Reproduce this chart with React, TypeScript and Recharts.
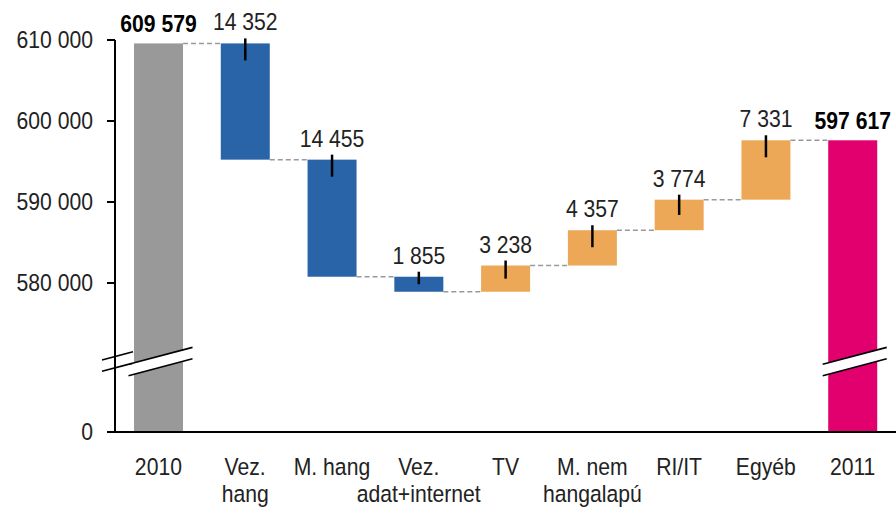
import { BarChart, Bar, XAxis, YAxis } from "recharts";

const categories = ["2010", "Vez.\nhang", "M. hang", "Vez.\nadat+internet", "TV", "M. nem\nhangalapú", "RI/IT", "Egyéb", "2011"];
const startTotal = 609579;
const endTotal = 597617;
const changes = [-14352, -14455, -1855, 3238, 4357, 3774, 7331];
const yTicks = [0, 580000, 590000, 600000, 610000];

// broken axis: everything below BREAK_VALUE is squeezed into the bottom strip
const OFFSET = 561600;
const BREAK_VALUE = 570300;
const tv = (v: number) => (v >= BREAK_VALUE ? v - OFFSET : (v * (BREAK_VALUE - OFFSET)) / BREAK_VALUE);

const fmt = (n: number) => String(Math.abs(n)).replace(/\B(?=(\d{3})+(?!\d))/g, " ");

const W = 896;
const H = 507;
const Y_W = 115;
const BAND = (W - Y_W) / categories.length;
const FONT = '"Liberation Sans", Arial, sans-serif';
const FS = 23.5;
const SQUEEZE = 0.9;

type Row = { name: string; base: number; size: number; kind: string; label: string };

const rows: Row[] = [];
rows.push({ name: categories[0], base: 0, size: tv(startTotal), kind: "start", label: fmt(startTotal) });
let level = startTotal;
changes.forEach((d, i) => {
  const next = level + d;
  rows.push({ name: categories[i + 1], base: tv(Math.min(level, next)), size: Math.abs(d), kind: d < 0 ? "down" : "up", label: fmt(d) });
  level = next;
});
rows.push({ name: categories[categories.length - 1], base: 0, size: tv(endTotal), kind: "end", label: fmt(endTotal) });

const tickLabels = new Map(yTicks.map((v) => [tv(v), fmt(v)]));

const COLORS: Record<string, string> = { start: "#999999", end: "#E2006F", down: "#2964A8", up: "#EDA857" };

// condensed-looking text: regular font squeezed horizontally
function NarrowText({ x, y, anchor = "middle", bold = false, fill = "#222", lines }: { x: number; y: number; anchor?: string; bold?: boolean; fill?: string; lines: string[] }) {
  return (
    <text
      transform={`translate(${x},${y}) scale(${SQUEEZE},1)`}
      textAnchor={anchor}
      fontSize={FS}
      fontWeight={bold ? 700 : 400}
      fill={fill}
      fontFamily={FONT}
    >
      {lines.map((l, i) => (
        <tspan key={i} x={0} dy={i === 0 ? 0 : 27}>
          {l}
        </tspan>
      ))}
    </text>
  );
}

function BreakMark({ cx, cy, half }: { cx: number; cy: number; half: number }) {
  const s = 0.264;
  const g = 5.7;
  const x1 = cx - half;
  const x2 = cx + half;
  const up1 = cy - g + s * half;
  const up2 = cy - g - s * half;
  const lo1 = cy + g + s * half;
  const lo2 = cy + g - s * half;
  return (
    <g>
      <polygon points={`${x1},${up1} ${x2},${up2} ${x2},${lo2} ${x1},${lo1}`} fill="#fff" />
      <line x1={x1} y1={up1} x2={x2} y2={up2} stroke="#000" strokeWidth={1.6} />
      <line x1={x1} y1={lo1} x2={x2} y2={lo2} stroke="#000" strokeWidth={1.6} />
    </g>
  );
}

function StepShape(props: any) {
  const { x, y, width, height, payload } = props;
  const row = payload as Row;
  const cx = x + width / 2;
  const bottom = y + height;
  const total = row.kind === "start" || row.kind === "end";
  const linkY = row.kind === "down" ? bottom : y;
  const breakY = bottom - (height * tv(BREAK_VALUE)) / row.size;
  return (
    <g>
      <rect x={x} y={y} width={width} height={height} fill={COLORS[row.kind]} />
      {row.kind !== "end" && (
        <line x1={x + width} y1={linkY} x2={x + BAND} y2={linkY} stroke="#9a9a9a" strokeWidth={1.5} strokeDasharray="5 3" />
      )}
      {!total && (
        <line x1={cx} y1={y - 5} x2={cx} y2={y + Math.min(17, height / 2)} stroke="#000" strokeWidth={2.5} />
      )}
      {total && <BreakMark cx={cx + 2} cy={breakY} half={32} />}
      {row.kind === "start" && <BreakMark cx={Y_W + 2.5} cy={breakY} half={15.5} />}
      <NarrowText x={cx} y={y - (total ? 11 : 13)} bold={total} fill={total ? "#000" : "#222"} lines={[row.label]} />
    </g>
  );
}

function CategoryTick(props: any) {
  const { x, y, payload } = props;
  return <NarrowText x={x} y={y + 43} lines={String(payload.value).split("\n")} />;
}

function ValueTick(props: any) {
  const { x, y, payload } = props;
  return <NarrowText x={x} y={y + 8.4} anchor="end" lines={[tickLabels.get(payload.value) ?? ""]} />;
}

export default function App() {
  return (
    <div style={{ position: "absolute", left: 0, top: 0, width: W, height: H, background: "#fff", fontFamily: FONT }}>
      <BarChart width={W} height={H} data={rows} margin={{ top: 40, right: 0, bottom: 0, left: 0 }} barSize={49}>
        <XAxis
          dataKey="name"
          height={75}
          interval={0}
          tickSize={0}
          tickMargin={0}
          tickLine={false}
          axisLine={{ stroke: "#000", strokeWidth: 2 }}
          tick={<CategoryTick />}
        />
        <YAxis
          type="number"
          width={Y_W}
          domain={[0, tv(610000)]}
          ticks={yTicks.map(tv)}
          interval={0}
          tickSize={8}
          tickMargin={14}
          axisLine={{ stroke: "#000", strokeWidth: 2 }}
          tickLine={{ stroke: "#000", strokeWidth: 2 }}
          tick={<ValueTick />}
        />
        <Bar dataKey="base" stackId="w" fill="transparent" isAnimationActive={false} />
        <Bar dataKey="size" stackId="w" shape={StepShape} isAnimationActive={false} />
      </BarChart>
    </div>
  );
}
